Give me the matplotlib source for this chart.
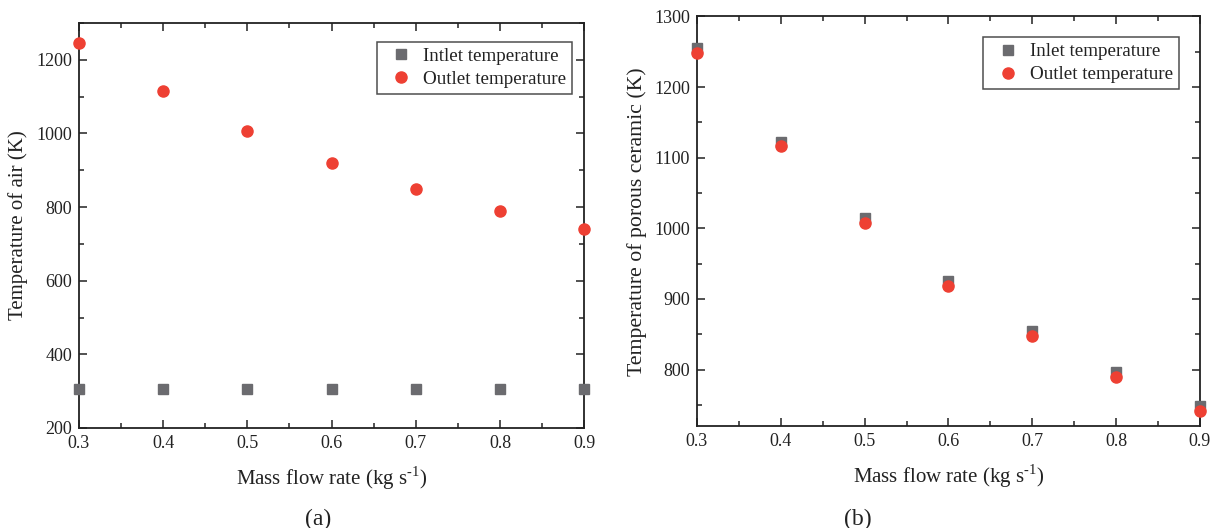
import matplotlib
matplotlib.use("Agg")
import matplotlib.pyplot as plt
from matplotlib.ticker import MultipleLocator

plt.rcParams["font.family"] = ["Liberation Serif", "DejaVu Serif"]
plt.rcParams["mathtext.fontset"] = "custom"
plt.rcParams["mathtext.rm"] = "Liberation Serif"

mass_flow = [0.3, 0.4, 0.5, 0.6, 0.7, 0.8, 0.9]

# (a) air temperatures
air_inlet = [307, 305, 305, 305, 305, 305, 305]
air_outlet = [1246, 1116, 1007, 919, 848, 789, 741]

# (b) porous ceramic temperatures
ceramic_inlet = [1255, 1122, 1015, 926, 854, 796, 748]
ceramic_outlet = [1248, 1116, 1008, 919, 848, 790, 742]

gray = "#6b6b6f"
red = "#ee4033"
text_color = "#222222"

fig = plt.figure(figsize=(12.17, 5.28), dpi=100)
ax_a = fig.add_axes([0.0649, 0.1894, 0.4151, 0.767])
ax_b = fig.add_axes([0.5727, 0.193, 0.4133, 0.776])


def style_axis(axis, y_major, y_minor):
    axis.xaxis.set_major_locator(MultipleLocator(0.1))
    axis.xaxis.set_minor_locator(MultipleLocator(0.05))
    axis.yaxis.set_major_locator(MultipleLocator(y_major))
    axis.yaxis.set_minor_locator(MultipleLocator(y_minor))
    axis.tick_params(
        which="both", direction="in", top=True, right=True,
        labelsize=13, colors=text_color, width=1.1,
    )
    axis.tick_params(which="major", length=6, pad=5)
    axis.tick_params(which="minor", length=3.5)
    for spine in axis.spines.values():
        spine.set_linewidth(1.3)
        spine.set_color(text_color)
    axis.set_xlim(0.3, 0.9)
    axis.set_xlabel(r"Mass flow rate (kg s$^{\text{-1}}$)",
                    fontsize=15, color=text_color, labelpad=9)


for axis, inlet, outlet, inlet_label, anchor in [
    (ax_a, air_inlet, air_outlet, "Intlet temperature", (0.976, 0.953)),
    (ax_b, ceramic_inlet, ceramic_outlet, "Inlet temperature", (0.958, 0.949)),
]:
    axis.plot(mass_flow, inlet, linestyle="none", marker="s",
              markersize=6.8, color=gray, label=inlet_label,
              clip_on=False, zorder=3)
    axis.plot(mass_flow, outlet, linestyle="none", marker="o",
              markersize=8, color=red, label="Outlet temperature",
              clip_on=False, zorder=4)
    legend = axis.legend(
        loc="upper right", fontsize=13.7, frameon=True, fancybox=False,
        edgecolor=text_color, handlelength=2.0, handletextpad=0.15,
        borderpad=0.3, labelspacing=0.3, borderaxespad=0,
        bbox_to_anchor=anchor,
    )
    legend.get_frame().set_linewidth(1.1)
    for text in legend.get_texts():
        text.set_color(text_color)

style_axis(ax_a, 200, 100)
ax_a.set_ylim(200, 1300)
ax_a.set_ylabel("Temperature of air (K)", fontsize=15,
                color=text_color, labelpad=6)

style_axis(ax_b, 100, 50)
ax_b.set_ylim(720, 1300)
ax_b.set_ylabel("Temperature of porous ceramic (K)", fontsize=15.7,
                color=text_color, labelpad=5)

fig.text(0.2613, 0.006, "(a)", fontsize=17, ha="center", color=text_color)
fig.text(0.705, 0.006, "(b)", fontsize=17, ha="center", color=text_color)

fig.savefig("out.png", dpi=100, facecolor="white")
